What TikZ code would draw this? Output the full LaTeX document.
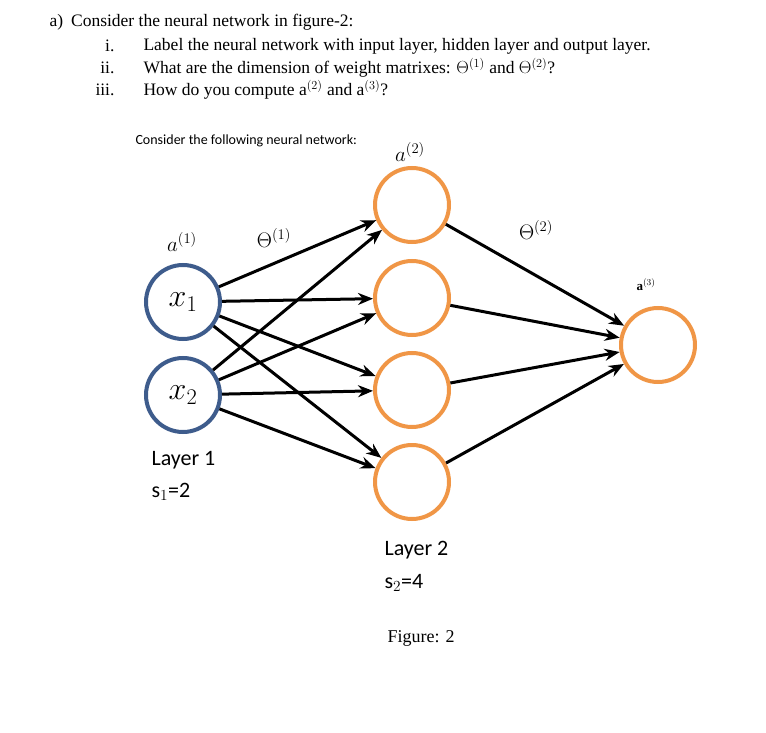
\documentclass[tikz,border=0pt]{standalone}
\usepackage{fix-cm}
\usepackage{fontspec}
\setmainfont{Liberation Serif}
\newfontfamily\figfont{Carlito}
\usetikzlibrary{arrows.meta}
\definecolor{inblue}{RGB}{62,92,140}
\definecolor{hidorange}{RGB}{240,150,70}
\tikzset{
    unit/.style={circle, line width=4pt, minimum size=74pt, inner sep=0pt},
    link/.style={line width=3pt, -{Stealth[length=15pt,width=12pt]}, shorten >=0pt},
    lab/.style={font=\figfont\fontsize{22}{26}\selectfont, anchor=west},
    hdr/.style={font=\fontsize{17.5}{20}\selectfont, anchor=west},
    sym/.style={font=\fontsize{21}{24}\selectfont}
}
\begin{document}
\begin{tikzpicture}[x=1pt,y=-1pt]
    \useasboundingbox (0,0) rectangle (766,733);

    % Question text
    \node[hdr] at (46,22) {a)\hspace{8pt}Consider the neural network in figure-2:};
    \node[hdr, anchor=east] at (118,46) {i.};
    \node[hdr, anchor=east] at (118,68) {ii.};
    \node[hdr, anchor=east] at (118,90) {iii.};
    \node[hdr] at (140,46) {Label the neural network with input layer, hidden layer and output layer.};
    \node[hdr] at (140,68) {What are the dimension of weight matrixes: $\Theta^{(1)}$ and $\Theta^{(2)}$?};
    \node[hdr] at (140,90) {How do you compute a$^{(2)}$ and a$^{(3)}$?};

    \node[font=\figfont\fontsize{14}{16}\selectfont, anchor=west] at (132,141) {Consider the following neural network:};

    % Units
    \node[unit, draw=inblue] (x1) at (183,302) {\fontsize{32}{36}\selectfont$x_1$};
    \node[unit, draw=inblue] (x2) at (183,395) {\fontsize{32}{36}\selectfont$x_2$};
    \foreach \i/\y in {1/205,2/298,3/390,4/482}
        \node[unit, draw=hidorange] (h\i) at (412,\y) {};
    \node[unit, draw=hidorange] (o) at (658,345) {};

    % Connections
    \foreach \s in {x1,x2}
        \foreach \i in {1,...,4}
            \draw[link] (\s) -- (h\i);
    \foreach \i in {1,...,4}
        \draw[link] (h\i) -- (o);

    % Labels
    \node[sym] at (410,152) {$a^{(2)}$};
    \node[sym] at (182,242) {$a^{(1)}$};
    \node[sym] at (274,238) {$\Theta^{(1)}$};
    \node[sym] at (536,230) {$\Theta^{(2)}$};
    \node[font=\bfseries\fontsize{13}{15}\selectfont] at (646,285) {a$^{(3)}$};
    \node[lab] at (148,460) {Layer 1};
    \node[lab] at (148,492) {s$_1$=2};
    \node[lab] at (381,550) {Layer 2};
    \node[lab] at (381,583) {s$_2$=4};
    \node[font=\fontsize{18}{20}\selectfont] at (421,638) {Figure: 2};
\end{tikzpicture}
\end{document}
